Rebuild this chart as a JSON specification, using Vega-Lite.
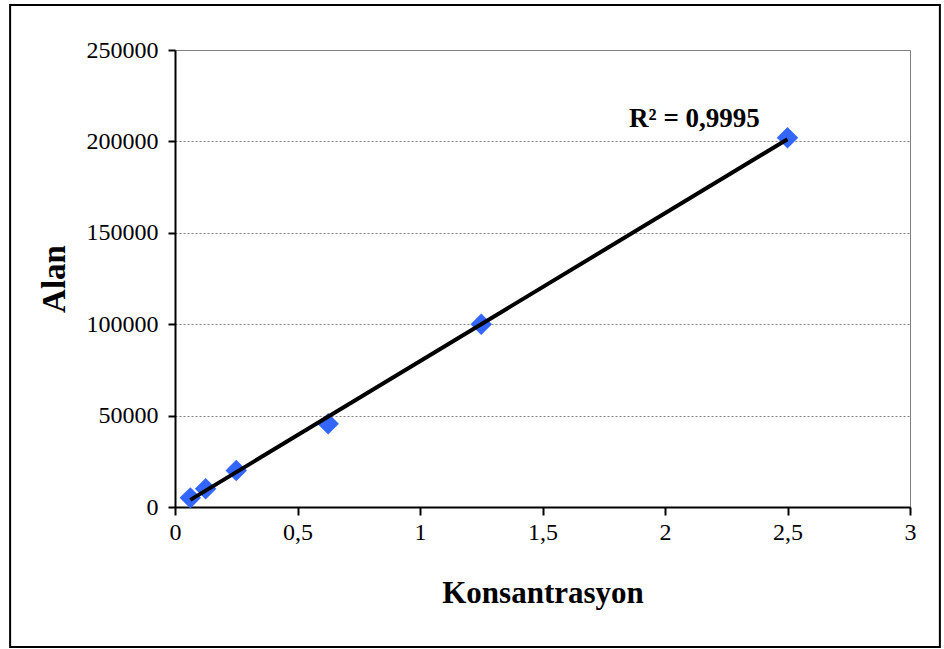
{
  "$schema": "https://vega.github.io/schema/vega-lite/v6.json",
  "autosize": {"type": "none"},
  "width": 735,
  "height": 457,
  "padding": {"left": 175, "top": 50, "right": 34, "bottom": 142},
  "background": "white",
  "config": {
    "font": "Liberation Serif",
    "view": {"stroke": "#808080", "strokeWidth": 1}
  },
  "data": {
    "values": [
      {"konsantrasyon": 0.0625, "alan": 5000},
      {"konsantrasyon": 0.125, "alan": 10000},
      {"konsantrasyon": 0.25, "alan": 20000},
      {"konsantrasyon": 0.625, "alan": 45500},
      {"konsantrasyon": 1.25, "alan": 100000},
      {"konsantrasyon": 2.5, "alan": 202000}
    ]
  },
  "layer": [
    {
      "mark": {"type": "point", "shape": "diamond", "filled": true, "color": "#3366FF", "opacity": 1, "size": 460},
      "encoding": {
        "x": {
          "field": "konsantrasyon", "type": "quantitative",
          "scale": {"domain": [0, 3], "nice": false, "zero": true},
          "axis": {
            "title": "Konsantrasyon", "titleFont": "Liberation Serif", "titleFontSize": 31, "titleFontWeight": "bold", "titleColor": "black", "titlePadding": 34,
            "values": [0, 0.5, 1, 1.5, 2, 2.5, 3],
            "labelExpr": "replace(toString(datum.value), '.', ',')",
            "labelFlush": false,
            "labelFont": "Liberation Serif", "labelFontSize": 24, "labelColor": "black", "labelPadding": 5,
            "grid": false, "domainColor": "black", "domainWidth": 2, "tickColor": "black", "tickWidth": 2, "tickSize": 8
          }
        },
        "y": {
          "field": "alan", "type": "quantitative",
          "scale": {"domain": [0, 250000], "nice": false},
          "axis": {
            "title": "Alan", "titleFont": "Liberation Serif", "titleFontSize": 33, "titleFontWeight": "bold", "titleColor": "black", "titlePadding": 15,
            "values": [0, 50000, 100000, 150000, 200000, 250000], "format": "d",
            "labelFlush": false,
            "labelFont": "Liberation Serif", "labelFontSize": 24, "labelColor": "black", "labelPadding": 10,
            "grid": true, "gridColor": "#808080", "gridDash": [2, 2], "gridWidth": 1,
            "domainColor": "black", "domainWidth": 2, "tickColor": "black", "tickWidth": 2, "tickSize": 7
          }
        }
      }
    },
    {
      "transform": [
        {"regression": "alan", "on": "konsantrasyon", "method": "linear", "extent": [0.0625, 2.5]}
      ],
      "mark": {"type": "line", "color": "black", "strokeWidth": 4},
      "encoding": {
        "x": {"field": "konsantrasyon", "type": "quantitative"},
        "y": {"field": "alan", "type": "quantitative"}
      }
    },
    {
      "data": {"values": [{"label": "R² = 0,9995"}]},
      "mark": {"type": "text", "font": "Liberation Serif", "fontSize": 27, "fontWeight": "bold", "color": "black", "align": "center", "baseline": "middle"},
      "encoding": {
        "x": {"datum": 2.12, "type": "quantitative"},
        "y": {"datum": 212000, "type": "quantitative"},
        "text": {"field": "label"}
      }
    },
    {
      "data": {"values": [{"frame": "chart area"}]},
      "mark": {"type": "rect", "fill": null, "stroke": "black", "strokeWidth": 2, "clip": false},
      "encoding": {
        "x": {"datum": -0.673, "type": "quantitative"},
        "x2": {"datum": 3.122},
        "y": {"datum": 274617, "type": "quantitative"},
        "y2": {"datum": -76586}
      }
    }
  ]
}
